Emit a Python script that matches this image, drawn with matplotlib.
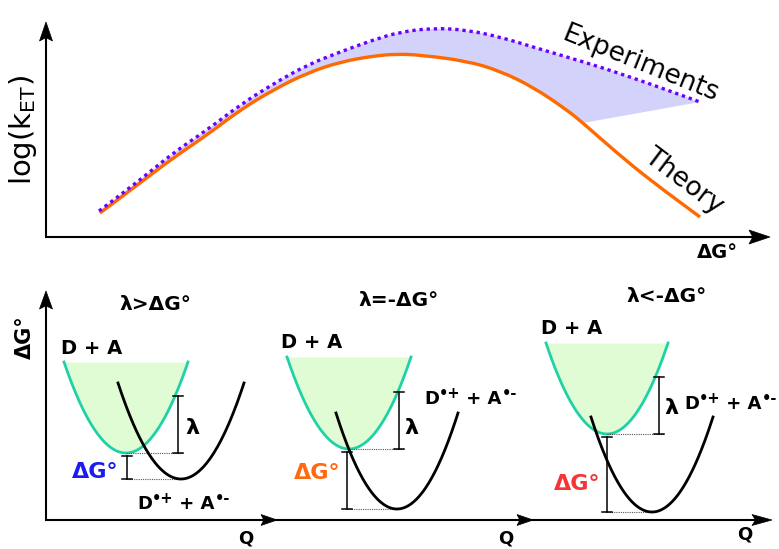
import numpy as np
import matplotlib
matplotlib.use('Agg')
import matplotlib.pyplot as plt
from matplotlib.patches import Polygon, PathPatch
from matplotlib.path import Path

plt.rcParams['font.family'] = ['DejaVu Sans']
plt.rcParams['mathtext.fontset'] = 'dejavusans'

# ---------------- data (figure pixel units, y downwards) ----------------
# Top panel: Marcus curve, theory vs experiments
theory_x = [100, 140, 173, 207, 240, 273, 307, 340, 373, 397, 420, 467, 500, 533, 567, 583, 617, 650, 700]
theory_y = [213, 183, 158, 135, 110, 90, 73, 62, 56, 54, 55, 61, 71, 87, 110, 123, 153, 180, 217]
exp_x = [99, 140, 173, 207, 240, 273, 307, 340, 373, 400, 433, 467, 500, 533, 567, 600, 633, 667, 700]
exp_y = [211, 180, 153, 130, 105, 84, 65, 52, 40, 32, 28, 30, 37, 47, 57, 67, 78, 90, 102]
shade_theory_end = 583  # theory x where the shaded band leaves the curve

# Bottom panels: reactant (D + A) and product (D•+ + A•-) parabolas
panel_titles = ['λ>ΔG°', 'λ=-ΔG°', 'λ<-ΔG°']
dg_colors = ['#1c1cf0', '#ff6a10', '#f53535']
react_vx = [126, 349, 607]
react_vy = [453, 449, 434]
react_top = [362, 357, 343]
react_hw = [62, 62, 61]
prod_vx = [181, 397, 652]
prod_vy = [479, 509, 512]
prod_top = [383, 413, 417]
prod_hw = [63, 61, 61]
lam_bar_x = [178, 399, 659]
lam_bar_top = [396, 392, 377]
dg_bar_x = [127, 347, 607]

title_pos = [(155, 305), (398, 300), (666, 297)]
da_pos = [(92, 348), (312, 342), (572, 329)]
lam_pos = [(192, 428), (411, 428), (671, 408)]
dg_pos = [(95, 472), (317, 473), (577, 484)]
prod_label_pos = [(137, 509), (424, 404), (684, 409)]   # baseline
prod_label_parts = [('D', 13, 0), ('•+', 10.5, 6), (' + A', 13, 0), ('•-', 10.5, 6)]
q_pos = [(246, 539), (506, 538), (745, 535)]
x_arrow_tips = [277, 533, 772]

# ---------------- figure ----------------
fig = plt.figure(figsize=(7.79, 5.49), dpi=100)
ax = fig.add_axes([0, 0, 1, 1])
ax.set_xlim(0, 779)
ax.set_ylim(549, 0)
ax.axis('off')
renderer = fig.canvas.get_renderer()


def smooth_parts(xs, ys):
    pts = np.column_stack([xs, ys]).astype(float)
    mids = (pts[:-1] + pts[1:]) / 2
    verts = [pts[0], mids[0]]
    codes = [Path.MOVETO, Path.LINETO]
    for i in range(1, len(pts) - 1):
        verts += [pts[i], mids[i]]
        codes += [Path.CURVE3, Path.CURVE3]
    verts.append(pts[-1])
    codes.append(Path.LINETO)
    return verts, codes


def arrowhead(tip, d, length, width):
    tip = np.array(tip, float)
    d = np.array(d, float)
    d = d / np.linalg.norm(d)
    n = np.array([-d[1], d[0]])
    base = tip - d * length
    pts = [tip, base + n * width / 2, tip - d * length * 0.82, base - n * width / 2]
    ax.add_patch(Polygon(pts, closed=True, facecolor='k', edgecolor='k', lw=0.5, zorder=6))


def compound_text(x, y, parts):
    cur = x
    for s, size, rise in parts:
        t = ax.text(cur, y - rise, s, fontsize=size, fontweight='bold',
                    ha='left', va='baseline')
        bb = t.get_window_extent(renderer)
        cur += bb.width  # 1 data unit == 1 pixel


axis_lw = 1.5
# top axes
ax.plot([46, 46], [237, 36], color='k', lw=axis_lw, solid_capstyle='butt', zorder=5)
ax.plot([45, 755], [237, 237], color='k', lw=axis_lw, solid_capstyle='butt', zorder=5)
arrowhead((46, 22), (0, -1), 19, 13)
arrowhead((770, 237), (1, 0), 21, 14)

# shaded band between experiments and theory
ev, ec = smooth_parts(exp_x, exp_y)
tx_band = [x for x in theory_x if x <= shade_theory_end][::-1]
ty_band = [y for x, y in zip(theory_x, theory_y) if x <= shade_theory_end][::-1]
tv, tc = smooth_parts(tx_band, ty_band)
tc = [Path.LINETO] + tc[1:]
band = Path(ev + tv + [ev[0]], ec + tc + [Path.CLOSEPOLY])
ax.add_patch(PathPatch(band, facecolor='#d2d2fb', edgecolor='none', zorder=1))

tv2, tc2 = smooth_parts(theory_x, theory_y)
ax.add_patch(PathPatch(Path(tv2, tc2), fill=False, edgecolor='#ff6a00', lw=2.4,
                       capstyle='butt', zorder=3))
ax.add_patch(PathPatch(Path(ev, ec), fill=False, edgecolor='#6a00ff', lw=2.4,
                       linestyle=(0, (1, 1.15)), capstyle='butt', zorder=4))

ax.text(23, 130, r'log(k$_{\mathrm{ET}}$)', fontsize=21, rotation=90,
        ha='center', va='center')
ax.text(640, 64, 'Experiments', fontsize=19, rotation=-22, ha='center', va='center',
        rotation_mode='anchor')
ax.text(684, 181, 'Theory', fontsize=19, rotation=-37, ha='center', va='center',
        rotation_mode='anchor')
ax.text(717, 252, 'ΔG°', fontsize=14, fontweight='bold', ha='center', va='center')

# bottom axes
ax.plot([46, 46], [520, 305], color='k', lw=axis_lw, solid_capstyle='butt', zorder=5)
ax.plot([45, 757], [520, 520], color='k', lw=axis_lw, solid_capstyle='butt', zorder=5)
arrowhead((46, 291), (0, -1), 18, 13)
for i, tip in enumerate(x_arrow_tips):
    if i < 2:
        arrowhead((tip, 520), (1, 0), 16, 11)
    else:
        arrowhead((tip, 520), (1, 0), 20, 11)
ax.text(25, 337, 'ΔG°', fontsize=15, fontweight='bold', rotation=90,
        ha='center', va='center')

for i in range(3):
    # reactant parabola + fill
    xs = np.linspace(react_vx[i] - react_hw[i], react_vx[i] + react_hw[i], 200)
    ys = react_vy[i] - (react_vy[i] - react_top[i]) * ((xs - react_vx[i]) / react_hw[i]) ** 2
    ax.fill_between(xs, ys, react_top[i], color='#e0fcd4', lw=0, zorder=1)
    ax.plot(xs, ys, color='#1fd2a6', lw=2.0, zorder=2)
    # product parabola
    xp = np.linspace(prod_vx[i] - prod_hw[i], prod_vx[i] + prod_hw[i], 200)
    yp = prod_vy[i] - (prod_vy[i] - prod_top[i]) * ((xp - prod_vx[i]) / prod_hw[i]) ** 2
    ax.plot(xp, yp, color='k', lw=2.0, zorder=3)

    # dotted guide lines
    ax.plot([react_vx[i], lam_bar_x[i] + 5], [react_vy[i], react_vy[i]], color='#555555',
            lw=0.8, linestyle=(0, (1, 1)), zorder=2)
    ax.plot([dg_bar_x[i], prod_vx[i]], [prod_vy[i], prod_vy[i]], color='#555555',
            lw=0.8, linestyle=(0, (1, 1)), zorder=2)

    # lambda bar
    bx = lam_bar_x[i]
    ax.plot([bx, bx], [lam_bar_top[i], react_vy[i]], color='k', lw=1.1, zorder=4)
    for yy in (lam_bar_top[i], react_vy[i]):
        ax.plot([bx - 5, bx + 5], [yy, yy], color='k', lw=1.1, zorder=4)
    # dG bar
    gx = dg_bar_x[i]
    gtop = react_vy[i] + 3
    ax.plot([gx, gx], [gtop, prod_vy[i]], color='k', lw=1.1, zorder=4)
    for yy in (gtop, prod_vy[i]):
        ax.plot([gx - 5, gx + 5], [yy, yy], color='k', lw=1.1, zorder=4)

    # texts
    ax.text(*title_pos[i], panel_titles[i], fontsize=14.5, fontweight='bold',
            ha='center', va='center')
    ax.text(*da_pos[i], 'D + A', fontsize=14, fontweight='bold', ha='center', va='center')
    ax.text(*lam_pos[i], 'λ', fontsize=16, fontweight='bold', ha='center', va='center')
    ax.text(*dg_pos[i], 'ΔG°', fontsize=16, fontweight='bold', color=dg_colors[i],
            ha='center', va='center')
    compound_text(*prod_label_pos[i], prod_label_parts)
    ax.text(*q_pos[i], 'Q', fontsize=13, fontweight='bold', ha='center', va='center')

fig.savefig('out.png', dpi=100)
